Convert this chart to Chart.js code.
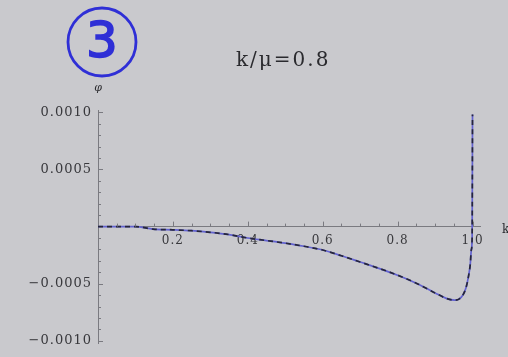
<!DOCTYPE html>
<html>
<head>
<meta charset="utf-8">
<script src="https://cdn.jsdelivr.net/npm/chart.js@4"></script>
<style>
  html, body { margin: 0; padding: 0; background: #c9c9cd; }
  #wrap { width: 508px; height: 357px; }
</style>
</head>
<body>
<div id="wrap"><canvas id="c" width="508" height="357"></canvas></div>
<script>
// φ(k) for k/μ = 0.8
const kValues = [0, 0.05, 0.10, 0.147, 0.20, 0.25, 0.30, 0.35, 0.40, 0.45, 0.50, 0.55, 0.60, 0.65, 0.70, 0.75, 0.80, 0.85, 0.90, 0.93, 0.952, 0.965, 0.975, 0.983, 0.989, 0.994, 0.997, 0.999, 1.0];
const phiValues = [0, 0, 0, -0.000022, -0.000028, -0.000036, -0.00005, -0.00007, -0.0001, -0.000122, -0.000145, -0.000172, -0.000205, -0.000255, -0.00031, -0.000365, -0.000425, -0.000495, -0.00058, -0.000628, -0.000644, -0.000632, -0.000595, -0.00053, -0.00044, -0.00033, -0.0002, -0.0001, 0.00098];

const xMajor = [0.2, 0.4, 0.6, 0.8, 1.0];
const xTickLabels = ['0.2', '0.4', '0.6', '0.8', '1.0'];
const yMajor = [0.001, 0.0005, -0.0005, -0.001];
const yTickLabels = ['0.0010', '0.0005', '\u22120.0005', '\u22120.0010'];

const titleText = 'k/\u03bc=0.8';
const yAxisName = '\u03c6';
const xAxisName = 'k';
const badgeText = '3';

const points = kValues.map((k, i) => ({ x: k, y: phiValues[i] }));

const isMajor = (list, v, eps) => list.some(m => Math.abs(m - v) < eps);

// slightly spread glyphs for the axis numbers
const spacing = {
  id: 'spacing',
  beforeDraw(chart) { chart.ctx.letterSpacing = '1px'; }
};

// tick marks pointing into the plot, as in Mathematica-style axes
const innerTicks = {
  id: 'innerTicks',
  afterDraw(chart) {
    const ctx = chart.ctx;
    const xs = chart.scales.x, ys = chart.scales.y;
    const x0 = xs.getPixelForValue(0), y0 = ys.getPixelForValue(0);
    ctx.save();
    ctx.strokeStyle = '#7a7a80';
    ctx.lineWidth = 1;
    ctx.beginPath();
    xs.ticks.forEach(t => {
      const px = Math.round(xs.getPixelForValue(t.value)) + 0.5;
      const len = isMajor(xMajor, t.value, 1e-6) ? 5 : 3;
      ctx.moveTo(px, y0);
      ctx.lineTo(px, y0 - len);
    });
    ys.ticks.forEach(t => {
      const py = Math.round(ys.getPixelForValue(t.value)) + 0.5;
      const len = isMajor(yMajor, t.value, 1e-9) ? 5 : 3;
      ctx.moveTo(x0, py);
      ctx.lineTo(x0 + len, py);
    });
    ctx.stroke();
    ctx.restore();
  }
};

const decorations = {
  id: 'decorations',
  afterDraw(chart) {
    const ctx = chart.ctx;
    const xs = chart.scales.x, ys = chart.scales.y;
    ctx.save();
    ctx.letterSpacing = '0px';
    // circled number
    ctx.strokeStyle = '#2f2fd6';
    ctx.lineWidth = 2.8;
    ctx.beginPath();
    ctx.arc(102, 42, 34, 0, Math.PI * 2);
    ctx.stroke();
    ctx.fillStyle = '#2f2fd6';
    ctx.font = '50px "DejaVu Sans"';
    ctx.textAlign = 'center';
    ctx.textBaseline = 'middle';
    ctx.lineWidth = 1.6;
    ctx.fillText(badgeText, 102, 44);
    ctx.strokeText(badgeText, 102, 44);
    // title
    ctx.fillStyle = '#2a2a2e';
    ctx.letterSpacing = '2px';
    ctx.font = '20px "DejaVu Serif"';
    ctx.textAlign = 'left';
    ctx.fillText(titleText, 236, 61);
    // axis names
    ctx.letterSpacing = '0px';
    ctx.textAlign = 'center';
    ctx.font = 'italic 11px "DejaVu Serif"';
    ctx.fillText(yAxisName, xs.getPixelForValue(0), 88);
    ctx.textAlign = 'left';
    ctx.font = '12px "DejaVu Serif"';
    ctx.fillText(xAxisName, 502, ys.getPixelForValue(0) + 3);
    ctx.restore();
  }
};

new Chart(document.getElementById('c'), {
  type: 'line',
  data: {
    datasets: [
      {
        data: points,
        borderColor: '#26263a',
        borderWidth: 1.7,
        borderDash: [5, 4],
        pointRadius: 0,
        cubicInterpolationMode: 'monotone'
      },
      {
        data: points,
        borderColor: '#6262d0',
        borderWidth: 1.7,
        pointRadius: 0,
        cubicInterpolationMode: 'monotone'
      }
    ]
  },
  options: {
    responsive: false,
    animation: false,
    layout: { padding: { left: 0, right: 28, top: 110, bottom: 11 } },
    plugins: { legend: { display: false }, tooltip: { enabled: false } },
    scales: {
      x: {
        type: 'linear',
        position: { y: 0 },
        min: 0,
        max: 1.02,
        afterBuildTicks(scale) {
          const t = [];
          for (let i = 1; i <= 20; i++) t.push({ value: i * 0.05 });
          scale.ticks = t;
        },
        ticks: {
          autoSkip: false,
          maxRotation: 0,
          padding: 7,
          color: '#38383c',
          font: { family: 'DejaVu Serif', size: 12 },
          callback(v) {
            const i = xMajor.findIndex(m => Math.abs(m - v) < 1e-6);
            return i >= 0 ? xTickLabels[i] : '';
          }
        },
        grid: { drawOnChartArea: false, drawTicks: false },
        border: { color: '#7a7a80', width: 1 }
      },
      y: {
        type: 'linear',
        position: 'left',
        min: -0.00102,
        max: 0.00102,
        afterFit(scale) { scale.width = 98; },
        afterBuildTicks(scale) {
          const t = [];
          for (let i = -10; i <= 10; i++) if (i !== 0) t.push({ value: i * 0.0001 });
          scale.ticks = t;
        },
        ticks: {
          autoSkip: false,
          padding: 6,
          color: '#38383c',
          font: { family: 'DejaVu Serif', size: 13 },
          callback(v) {
            const i = yMajor.findIndex(m => Math.abs(m - v) < 1e-9);
            return i >= 0 ? yTickLabels[i] : '';
          }
        },
        grid: { drawOnChartArea: false, drawTicks: false },
        border: { color: '#7a7a80', width: 1 }
      }
    }
  },
  plugins: [spacing, innerTicks, decorations]
});
</script>
</body>
</html>
